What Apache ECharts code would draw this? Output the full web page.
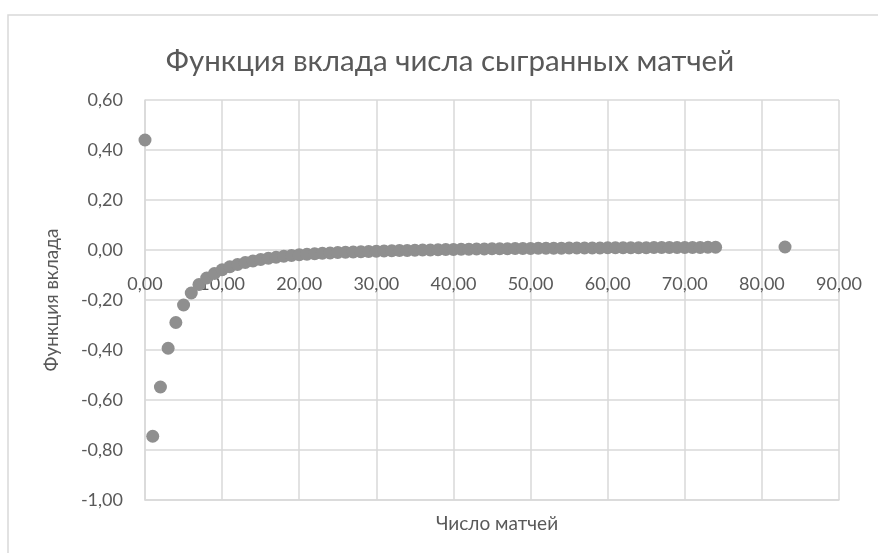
<!DOCTYPE html>
<html>
<head>
<meta charset="utf-8">
<script src="https://cdn.jsdelivr.net/npm/echarts@6/dist/echarts.min.js"></script>
<style>
  html, body { margin: 0; padding: 0; background: #fff; }
  #chart { width: 878px; height: 553px; }
</style>
</head>
<body>
<div id="chart"></div>
<script>
var matches = [0, 1, 2, 3, 4, 5, 6, 7, 8, 9, 10, 11, 12, 13, 14, 15, 16, 17, 18, 19,
    20, 21, 22, 23, 24, 25, 26, 27, 28, 29, 30, 31, 32, 33, 34, 35, 36, 37, 38, 39,
    40, 41, 42, 43, 44, 45, 46, 47, 48, 49, 50, 51, 52, 53, 54, 55, 56, 57, 58, 59,
    60, 61, 62, 63, 64, 65, 66, 67, 68, 69, 70, 71, 72, 73, 74, 83];
var contribution = [0.44, -0.745, -0.548, -0.393, -0.29, -0.22, -0.172, -0.138, -0.112, -0.094,
    -0.079, -0.067, -0.058, -0.050, -0.044, -0.038, -0.033, -0.029, -0.025, -0.022,
    -0.019, -0.017, -0.015, -0.013, -0.012, -0.010, -0.009, -0.008, -0.007, -0.006,
    -0.005, -0.004, -0.003, -0.002, -0.002, -0.001, 0.000, 0.000, 0.001, 0.002,
    0.002, 0.003, 0.003, 0.004, 0.004, 0.005, 0.005, 0.005, 0.006, 0.006,
    0.006, 0.007, 0.007, 0.007, 0.007, 0.008, 0.008, 0.008, 0.008, 0.008,
    0.009, 0.009, 0.009, 0.009, 0.009, 0.009, 0.010, 0.010, 0.010, 0.010,
    0.010, 0.010, 0.010, 0.011, 0.011, 0.012];

var titleText = 'Функция вклада числа сыгранных матчей';
var xName = 'Число матчей';
var yName = 'Функция вклада';

var font = 'Lato';
var textColor = '#595959';
var gridColor = '#d9d9d9';

function fmt(v) {
    return v.toFixed(2).replace('.', ',');
}

var points = [];
for (var i = 0; i < matches.length; i++) {
    points.push([matches[i], contribution[i]]);
}

var chart = echarts.init(document.getElementById('chart'));
chart.setOption({
    animation: false,
    textStyle: { fontFamily: font },
    title: [{
        text: titleText,
        left: 445,
        top: 41,
        textAlign: 'center',
        textStyle: { fontFamily: font, fontSize: 29.5, fontWeight: 'normal', color: textColor }
    }, {
        text: xName,
        left: 492,
        top: 509,
        textAlign: 'center',
        textStyle: { fontFamily: font, fontSize: 19, fontWeight: 'normal', color: textColor }
    }],
    graphic: [{
        type: 'polyline',
        shape: { points: [[8, 553], [8, 15], [878, 15]] },
        style: { stroke: gridColor, lineWidth: 1.5, fill: null }
    }],
    grid: { left: 145, right: 39, top: 100, bottom: 53 },
    xAxis: {
        type: 'value',
        min: 0,
        max: 90,
        interval: 10,
        axisLine: { onZero: false, lineStyle: { color: gridColor, width: 1.5 } },
        axisTick: { show: false },
        // labels sit just under the zero line, as in the original
        axisLabel: { formatter: fmt, color: textColor, fontSize: 18, margin: -225, fontFamily: font },
        splitLine: { lineStyle: { color: gridColor, width: 1.5 } }
    },
    yAxis: {
        type: 'value',
        min: -1,
        max: 0.6,
        interval: 0.2,
        name: yName,
        nameLocation: 'middle',
        nameGap: 84,
        nameTextStyle: { color: textColor, fontSize: 19, fontFamily: font },
        axisLine: { show: true, onZero: false, lineStyle: { color: gridColor, width: 1.5 } },
        axisTick: { show: false },
        axisLabel: { formatter: fmt, color: textColor, fontSize: 18, margin: 22, fontFamily: font },
        splitLine: { lineStyle: { color: gridColor, width: 1.5 } }
    },
    series: [{
        type: 'scatter',
        data: points,
        symbolSize: 13,
        itemStyle: { color: '#8f8f8f', opacity: 1 }
    }]
});
</script>
</body>
</html>
